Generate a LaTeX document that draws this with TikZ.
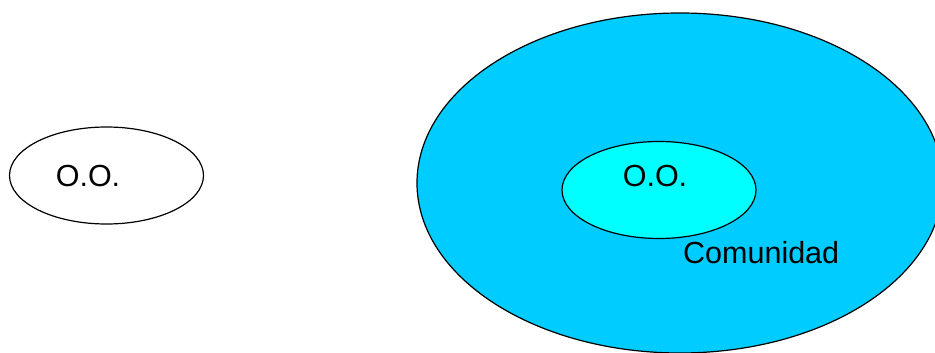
\documentclass[tikz,border=0pt]{standalone}
\usepackage{fontspec}
\setmainfont{Liberation Sans}
\usetikzlibrary{shapes.geometric}
\definecolor{comcyan}{HTML}{00CCFF}
\definecolor{oocyan}{HTML}{00FFFF}
\tikzset{oo/.style={draw,ellipse,line width=1.2pt,inner sep=0pt,minimum width=194pt,minimum height=97pt}}
\begin{document}
\begin{tikzpicture}[x=1pt,y=-1pt,font=\fontsize{30.5}{34}\selectfont]
      \useasboundingbox (0,0) rectangle (935,353);
      \clip (0,0) rectangle (935,353);
      \node[oo] (ooleft) at (106.5,175.5) {};
      \node (ooltext) at (88,176) {O.O.};
      \node[oo,fill=comcyan,minimum width=526pt,minimum height=340pt] (com) at (680,183) {};
      \node[oo,fill=oocyan] (ooright) at (659,190) {};
      \node (oortext) at (655,176) {O.O.};
      \node[anchor=base west,inner sep=0pt] (comtext) at (683,263) {Comunidad};
    \end{tikzpicture}
\end{document}
